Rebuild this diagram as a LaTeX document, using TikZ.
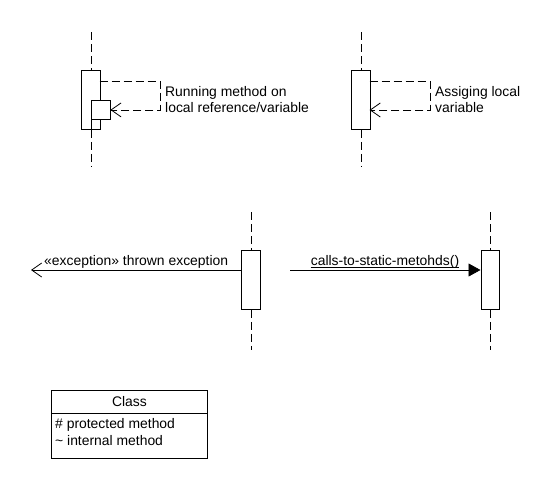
\documentclass[tikz,border=0pt]{standalone}
\usepackage{fontspec}
\setmainfont{Liberation Sans}
\usetikzlibrary{arrows.meta}
\begin{document}
\begin{tikzpicture}[x=1pt,y=-1pt,
  every node/.style={font=\fontsize{13.9}{15.5}\selectfont},
  lifeline/.style={draw=black,dash pattern=on 8pt off 4pt,line width=0.8pt},
  actbox/.style={draw=black,fill=white,line width=0.8pt,minimum width=18.6pt,minimum height=59pt,inner sep=0pt,anchor=north west},
  dmsg/.style={draw=black,dash pattern=on 8pt off 4pt,line width=0.8pt,-{Straight Barb[length=10pt,width=14pt,line width=0.8pt]}},
  omsg/.style={draw=black,line width=0.8pt,-{Straight Barb[length=10pt,width=14pt,line width=0.8pt]}},
  smsg/.style={draw=black,line width=0.8pt,-{Triangle[length=12pt,width=13pt]}},
  lbl/.style={inner sep=0pt,align=left}]
\useasboundingbox (0,0) rectangle (550,480);

% ---- top left: running method on local reference
\coordinate (l1t) at (91,32);
\coordinate (l1b) at (91,167);
\node[actbox] (a1) at (81,70) {};
\node[actbox,minimum height=19pt] (a1i) at (91,100) {};
\draw[lifeline] (l1t) -- (a1.north -| l1t);
\draw[lifeline] (a1.south -| l1b) -- (l1b);
\draw[line width=0.8pt] (a1i.south west) -- (a1i.south west |- a1.south);
\coordinate (m1s) at (99.6,81);
\coordinate (m1c) at (160,81);
\draw[dmsg] (m1s) -- (m1c) |- (a1i.east);
\node[lbl,anchor=west] (t1) at (165,99.5) {Running method on\\local reference/variable};

% ---- top right: assigning local variable
\coordinate (l2t) at (361,32);
\coordinate (l2b) at (361,167);
\node[actbox] (a2) at (351,70) {};
\draw[lifeline] (l2t) -- (a2.north -| l2t);
\draw[lifeline] (a2.south -| l2b) -- (l2b);
\coordinate (m2s) at (369.6,81);
\coordinate (m2c) at (430,81);
\coordinate (m2e) at (369.6,110);
\draw[dmsg] (m2s) -- (m2c) |- (m2e);
\node[lbl,anchor=west] (t2) at (435,99.5) {Assiging local\\variable};

% ---- middle left: thrown exception
\coordinate (l3t) at (251,212);
\coordinate (l3b) at (251,350);
\node[actbox] (a3) at (241,250) {};
\draw[lifeline] (l3t) -- (a3.north -| l3t);
\draw[lifeline] (a3.south -| l3b) -- (l3b);
\coordinate (m3s) at (241,270);
\coordinate (m3e) at (31,270);
\draw[omsg] (m3s) -- (m3e);
\node[lbl,anchor=base west] (t3) at (44,265) {«exception» thrown exception};

% ---- middle right: static call
\coordinate (l4t) at (490,212);
\coordinate (l4b) at (490,350);
\node[actbox] (a4) at (480.5,250) {};
\draw[lifeline] (l4t) -- (a4.north -| l4t);
\draw[lifeline] (a4.south -| l4b) -- (l4b);
\coordinate (m4s) at (290,270);
\coordinate (m4e) at (480.5,270);
\draw[smsg] (m4s) -- (m4e);
\node[lbl,anchor=base] (t4) at (385,265) {calls-to-static-metohds()};
\draw[line width=0.8pt] ([yshift=-2pt]t4.base west) -- ([yshift=-2pt]t4.base east);

% ---- class box
\node[draw,line width=0.8pt,minimum width=156pt,minimum height=23pt,inner sep=0pt,anchor=north west] (ch) at (51,390) {Class};
\node[draw,line width=0.8pt,minimum width=156pt,minimum height=45pt,inner sep=0pt,anchor=north west] (cb) at (51,413) {};
\node[lbl,anchor=north west,font=\fontsize{13.9}{17.5}\selectfont] (ct) at (55,418) {\# protected method\\\textasciitilde{} internal method};
\end{tikzpicture}
\end{document}
